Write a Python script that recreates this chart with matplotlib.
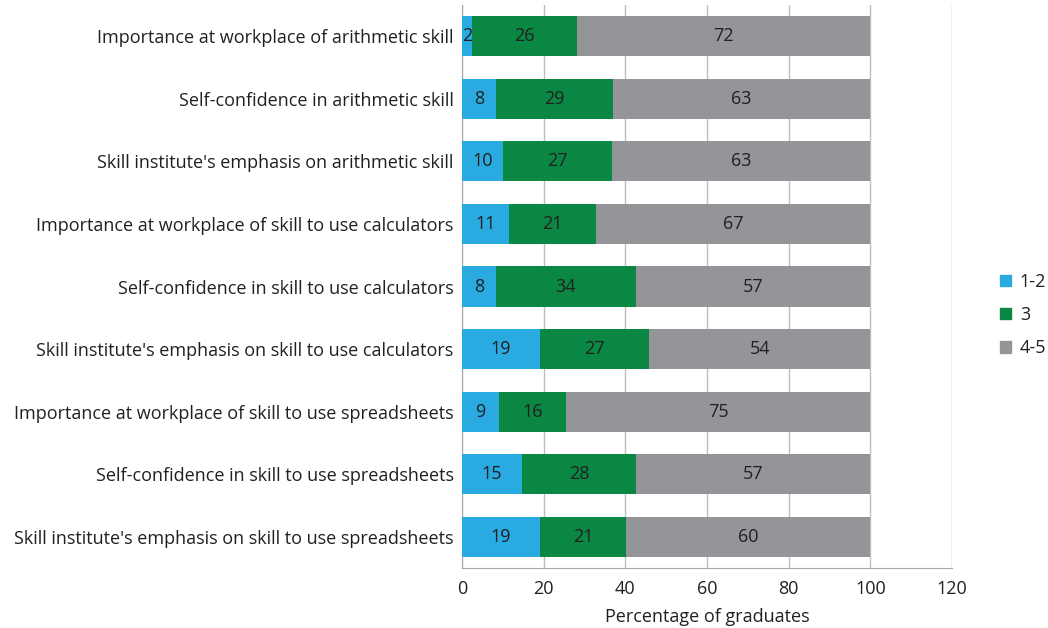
import numpy as np
import matplotlib.pyplot as plt
from matplotlib.patches import Patch

plt.rcParams['font.family'] = ['Open Sans', 'DejaVu Sans']

# Categories, top to bottom
categories = [
    "Importance at workplace of arithmetic skill",
    "Self-confidence in arithmetic skill",
    "Skill institute's emphasis on arithmetic skill",
    "Importance at workplace of skill to use calculators",
    "Self-confidence in skill to use calculators",
    "Skill institute's emphasis on skill to use calculators",
    "Importance at workplace of skill to use spreadsheets",
    "Self-confidence in skill to use spreadsheets",
    "Skill institute's emphasis on skill to use spreadsheets",
]

# Percentage of graduates per rating group
low = [2.4, 8.3, 10.0, 11.4, 8.3, 19.1, 9.0, 14.7, 19.1]
mid = [25.8, 28.6, 26.7, 21.4, 34.3, 26.7, 16.4, 27.9, 21.1]
high = [71.8, 63.1, 63.3, 67.2, 57.4, 54.2, 74.6, 57.4, 59.8]

series_names = ["1-2", "3", "4-5"]
colors = ["#29abe2", "#0a8743", "#939598"]
text_col = "#231f20"
fs = 13

fig = plt.figure(figsize=(10.48, 6.28), dpi=100)
ax = fig.add_axes([462 / 1048, 1 - 568 / 628, 490 / 1048, 563 / 628])

y = np.arange(len(categories))
left = np.zeros(len(categories))
for vals, name, c in zip([low, mid, high], series_names, colors):
    vals = np.array(vals)
    ax.barh(y, vals, left=left, height=0.64, color=c, label=name, zorder=3)
    for yi, l, v in zip(y, left, vals):
        ax.text(l + v / 2, yi, f"{v:.0f}", ha="center", va="center",
                fontsize=fs, color=text_col, zorder=4)
    left += vals

ax.set_ylim(len(categories) - 0.5, -0.5)
ax.set_xlim(0, 120)
ax.set_xticks(np.arange(0, 121, 20))
ax.set_yticks(y)
ax.set_yticklabels(categories)
ax.tick_params(axis="y", length=0, pad=6, labelsize=fs, labelcolor=text_col)
ax.tick_params(axis="x", length=0, pad=9, labelsize=fs, labelcolor=text_col)
ax.grid(axis="x", color="#bcbec0", linewidth=1, zorder=0)
for s in ["top", "right"]:
    ax.spines[s].set_visible(False)
for s in ["left", "bottom"]:
    ax.spines[s].set_color("#a7a9ac")
ax.set_xlabel("Percentage of graduates", fontsize=fs, color=text_col, labelpad=7)

handles = [Patch(color=c, label=n) for c, n in zip(colors, series_names)]
fig.legend(handles=handles, loc="center left", bbox_to_anchor=(1000 / 1048, 1 - 315 / 628),
           frameon=False, fontsize=fs, handlelength=0.6, handleheight=0.6,
           handletextpad=0.5, labelspacing=0.85, labelcolor=text_col,
           borderpad=0, borderaxespad=0)

fig.savefig("out.png", dpi=100)
